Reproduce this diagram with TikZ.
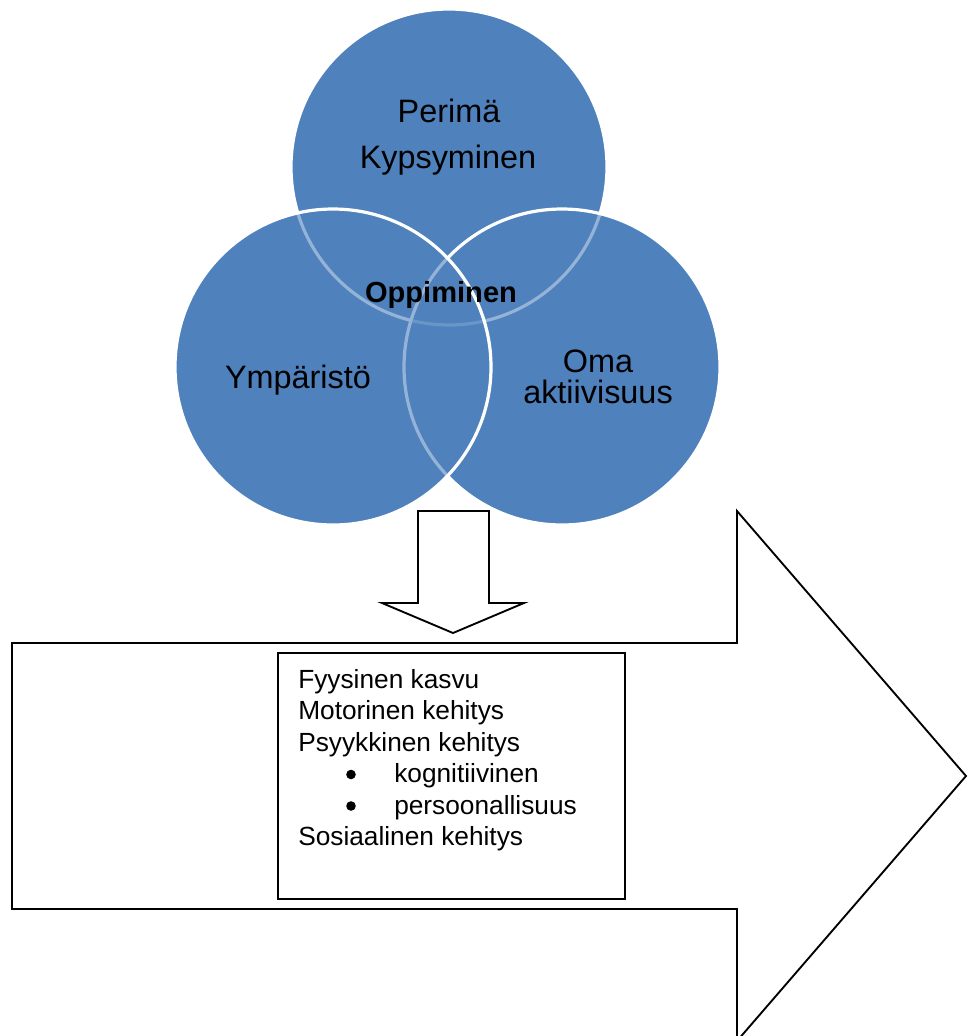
\documentclass[tikz,border=0pt]{standalone}
\usepackage{fontspec}
\setmainfont{Liberation Sans}
\definecolor{vennblue}{HTML}{4F81BD}
\tikzset{
  venn/.style={fill=vennblue,fill opacity=0.6,draw=white,line width=2.4pt},
  vennlabel/.style={font=\fontsize{24.3}{28}\selectfont,inner sep=0pt,anchor=base},
  arrowshape/.style={draw=black,fill=white,line width=1.4pt,line join=miter},
  listitem/.style={font=\fontsize{19.7}{23.5}\selectfont,inner sep=0pt,anchor=base west}
}
\begin{document}
\begin{tikzpicture}[x=0.75pt,y=-0.75pt]
	\useasboundingbox (0,0) rectangle (968,1036);
	\clip (0,0) rectangle (968,1036);
	% the three circles
	\coordinate (ctop) at (449,167);
	\coordinate (cleft) at (333,367);
	\coordinate (cright) at (562,367);
	\fill[vennblue] (ctop) circle (118.5pt) (cleft) circle (118.5pt) (cright) circle (118.5pt);
	\draw[venn] (ctop) circle (118.5pt);
	\draw[venn] (cright) circle (118.5pt);
	\draw[venn] (cleft) circle (118.5pt);
	\node[vennlabel] (perima) at (449,122) {Perimä};
	\node[vennlabel] (kypsyminen) at (448,168) {Kypsyminen};
	\node[vennlabel,font=\fontsize{21.8}{26}\selectfont\bfseries] (oppiminen) at (441,302) {Oppiminen};
	\node[vennlabel] (ymparisto) at (298,388) {Ympäristö};
	\node[vennlabel] (oma) at (598,372) {Oma};
	\node[vennlabel] (aktiivisuus) at (598,403) {aktiivisuus};
	% arrows
	\draw[arrowshape] (12,643) -- (737,643) -- (737,511) -- (966,776) -- (737,1041) -- (737,909) -- (12,909) -- cycle;
	\draw[arrowshape] (418,511) -- (489,511) -- (489,603) -- (524,603) -- (453,633) -- (382,603) -- (418,603) -- cycle;
	% text box
	\draw[fill=white,line width=1.2pt] (278,653) rectangle (625,899);
	\node[listitem] (fyysinen) at (298,688) {Fyysinen kasvu};
	\node[listitem] (motorinen) at (298,719.5) {Motorinen kehitys};
	\node[listitem] (psyykkinen) at (298,751) {Psyykkinen kehitys};
	\node[listitem] (kognitiivinen) at (394,782.5) {kognitiivinen};
	\node[listitem] (persoonallisuus) at (394,814) {persoonallisuus};
	\node[listitem] (sosiaalinen) at (298,845.5) {Sosiaalinen kehitys};
	\fill (351,774.5) circle (3.6pt) (351,806) circle (3.6pt);
\end{tikzpicture}
\end{document}
